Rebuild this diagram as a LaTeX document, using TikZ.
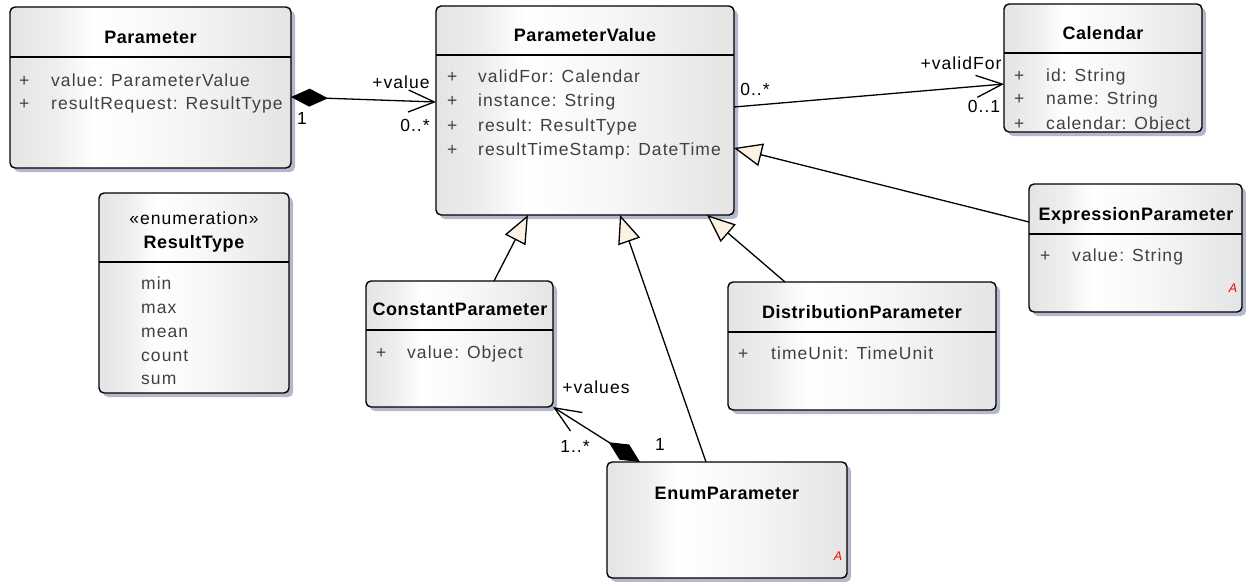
\documentclass[tikz,border=0pt]{standalone}
\usepackage{fontspec}
\setmainfont{Liberation Sans}[LetterSpace=6, BoldFeatures={LetterSpace=3}, ItalicFeatures={LetterSpace=0}]
\usetikzlibrary{arrows.meta,shadows}
\definecolor{shadowc}{RGB}{180,184,206}
\definecolor{attrc}{RGB}{64,64,64}
\definecolor{genfill}{RGB}{252,242,226}
\definecolor{bxL}{RGB}{228,228,228}
\definecolor{bxLb}{RGB}{238,238,238}
\definecolor{bxM}{RGB}{246,246,246}
\definecolor{bxR}{RGB}{228,228,228}
\pgfdeclarehorizontalshading{eabox}{100bp}{color(0bp)=(bxL); color(25bp)=(bxL); color(33bp)=(bxLb); color(40bp)=(white); color(55bp)=(bxM); color(75bp)=(bxR); color(100bp)=(bxR)}
\begin{document}
\begin{tikzpicture}[x=1pt,y=-1pt,
  font=\fontsize{17.5}{20}\selectfont,
  cls/.style={draw=black, line width=1.4pt, rounded corners=5pt, shading=eabox,
    general shadow={shadow xshift=4pt, shadow yshift=-4pt, fill=shadowc},
    anchor=north west, inner sep=0pt, outer sep=0pt},
  ttl/.style={font=\fontsize{18}{20}\selectfont\bfseries, text=black, inner sep=0pt, text height=12.5pt, text depth=0pt},
  stereo/.style={text=black, inner sep=0pt, text height=12.5pt, text depth=0pt},
  attr/.style={text=attrc, anchor=west, inner sep=0pt, text height=12.5pt, text depth=0pt},
  lbl/.style={text=black, inner sep=0pt, text height=12.5pt, text depth=0pt},
  abstr/.style={text=red, font=\fontsize{12.5}{13}\selectfont\itshape, inner sep=0pt},
  sepl/.style={line width=1.2pt},
  conn/.style={line width=1.3pt, line join=round},
  comp/.style={conn, {Diamond[length=37pt,width=18pt,fill=black]}-{Straight Barb[length=26pt,width=22pt]}},
  assoc/.style={conn, -{Straight Barb[length=26pt,width=22pt]}},
  gen/.style={conn, -{Triangle[length=28pt,width=23pt,fill=genfill]}}
]
\path[fill=white] (0,0) rectangle (1246,581);
\useasboundingbox (0,0) rectangle (1246,581);

% ---------- Parameter ----------
\node[cls, minimum width=281pt, minimum height=161pt] (param) at (10,7) {};
\draw[sepl] (param.west |- 0,57) -- (param.east |- 0,57);
\node[ttl] (param-t) at (150.5,37) {Parameter};
\node[attr] (param-p1) at (19,80) {+};
\node[attr] (param-a1) at (51,80) {value: ParameterValue};
\node[attr] (param-p2) at (19,103) {+};
\node[attr] (param-a2) at (51,103) {resultRequest: ResultType};

% ---------- ParameterValue ----------
\node[cls, minimum width=298pt, minimum height=209pt] (pv) at (436,6) {};
\draw[sepl] (pv.west |- 0,55) -- (pv.east |- 0,55);
\node[ttl] (pv-t) at (585,35) {ParameterValue};
\node[attr] (pv-p1) at (447,76) {+};
\node[attr] (pv-a1) at (478,76) {validFor: Calendar};
\node[attr] (pv-p2) at (447,100) {+};
\node[attr] (pv-a2) at (478,100) {instance: String};
\node[attr] (pv-p3) at (447,125) {+};
\node[attr] (pv-a3) at (478,125) {result: ResultType};
\node[attr] (pv-p4) at (447,149) {+};
\node[attr] (pv-a4) at (478,149) {resultTimeStamp: DateTime};

% ---------- Calendar ----------
\node[cls, minimum width=198pt, minimum height=128pt] (cal) at (1004,4) {};
\draw[sepl] (cal.west |- 0,53) -- (cal.east |- 0,53);
\node[ttl] (cal-t) at (1103,33) {Calendar};
\node[attr] (cal-p1) at (1014,75) {+};
\node[attr] (cal-a1) at (1046,75) {id: String};
\node[attr] (cal-p2) at (1014,98) {+};
\node[attr] (cal-a2) at (1046,98) {name: String};
\node[attr] (cal-p3) at (1014,123) {+};
\node[attr] (cal-a3) at (1046,123) {calendar: Object};

% ---------- ResultType ----------
\node[cls, minimum width=190pt, minimum height=200pt] (rt) at (99,193) {};
\draw[sepl] (rt.west |- 0,262) -- (rt.east |- 0,262);
\node[stereo] (rt-s) at (194,218) {«enumeration»};
\node[ttl] (rt-t) at (194,242) {ResultType};
\node[attr] (rt-a1) at (141,283) {min};
\node[attr] (rt-a2) at (141,307) {max};
\node[attr] (rt-a3) at (141,331) {mean};
\node[attr] (rt-a4) at (141,355) {count};
\node[attr] (rt-a5) at (141,378) {sum};

% ---------- ConstantParameter ----------
\node[cls, minimum width=187pt, minimum height=126pt] (const) at (366,281) {};
\draw[sepl] (const.west |- 0,330) -- (const.east |- 0,330);
\node[ttl] (const-t) at (460,309) {ConstantParameter};
\node[attr] (const-p1) at (376,352) {+};
\node[attr] (const-a1) at (407,352) {value: Object};

% ---------- DistributionParameter ----------
\node[cls, minimum width=268pt, minimum height=128pt] (dist) at (728,282) {};
\draw[sepl] (dist.west |- 0,332) -- (dist.east |- 0,332);
\node[ttl] (dist-t) at (862,312) {DistributionParameter};
\node[attr] (dist-p1) at (738,353) {+};
\node[attr] (dist-a1) at (771,353) {timeUnit: TimeUnit};

% ---------- ExpressionParameter ----------
\node[cls, minimum width=213pt, minimum height=128pt] (expr) at (1029,184) {};
\draw[sepl] (expr.west |- 0,234) -- (expr.east |- 0,234);
\node[ttl] (expr-t) at (1136,214) {ExpressionParameter};
\node[attr] (expr-p1) at (1040,255) {+};
\node[attr] (expr-a1) at (1072,255) {value: String};
\node[abstr] (expr-ab) at (1233,288) {A};

% ---------- EnumParameter ----------
\node[cls, minimum width=240pt, minimum height=116pt] (enum) at (607,462) {};
\node[ttl] (enum-t) at (727,493) {EnumParameter};
\node[abstr] (enum-ab) at (838,556) {A};

% ---------- connectors ----------
\draw[comp] (param.east |- 0,97) -- (pv.west |- 0,102);
\node[lbl] (l-value) at (401,82) {+value};
\node[lbl] (l-v0) at (415,125) {0..*};
\node[lbl] (l-v1) at (302,118) {1};

\draw[assoc] (pv.east |- 0,107) -- (cal.west |- 0,84);
\node[lbl] (l-c0) at (755,89) {0..*};
\node[lbl] (l-vf) at (961,63) {+validFor};
\node[lbl] (l-c1) at (984,106) {0..1};

\draw[gen] (expr.west |- 0,222) -- (pv.east |- 0,148);
\draw[gen] (const.north -| 494,0) -- (pv.south -| 528,0);
\draw[gen] (enum.north -| 706,0) -- (pv.south -| 620,0);
\draw[gen] (dist.north -| 785,0) -- (pv.south -| 707,0);

\draw[comp] (enum.north -| 640,0) -- (const.south east);
\node[lbl] (l-vals) at (596,387) {+values};
\node[lbl] (l-e1) at (575,446) {1..*};
\node[lbl] (l-e2) at (660,444) {1};
\end{tikzpicture}
\end{document}
